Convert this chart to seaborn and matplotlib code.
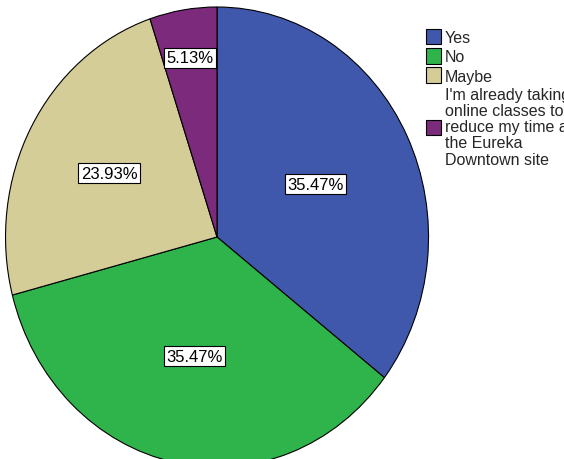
import numpy as np
import matplotlib
matplotlib.use("Agg")
import matplotlib.pyplot as plt
import seaborn as sns
from matplotlib.patches import Patch

sns.set_theme(style="white")
plt.rcParams["font.family"] = ["Liberation Sans", "DejaVu Sans"]

# Survey responses (percent of respondents)
categories = [
    "Yes",
    "No",
    "Maybe",
    "I'm already taking\nonline classes to\nreduce my time at\nthe Eureka\nDowntown site",
]
percents = [35.47, 35.47, 23.93, 5.13]
labels = ["35.47%", "35.47%", "23.93%", "5.13%"]

colors = ["#3F58AC", "#2EB44A", "#D5CD98", "#7B2A7C"]
label_radius = [0.52, 0.53, 0.58, 0.79]

fig = plt.figure(figsize=(5.64, 4.60), dpi=100)
ax = fig.add_axes([0.0098, -0.0174, 0.75, 1.0])

wedges, _ = ax.pie(
    percents,
    colors=colors,
    startangle=90,
    counterclock=False,
    wedgeprops=dict(edgecolor="black", linewidth=0.8),
)
ax.set_aspect("auto")
ax.set_xlim(-1, 1)
ax.set_ylim(-1, 1)

for w, txt, r in zip(wedges, labels, label_radius):
    mid = np.deg2rad((w.theta1 + w.theta2) / 2)
    ax.text(
        r * np.cos(mid), r * np.sin(mid), txt,
        ha="center", va="center", fontsize=12, color="black",
        bbox=dict(boxstyle="square,pad=0.15", facecolor="white",
                  edgecolor="black", linewidth=0.8),
    )

handles = [Patch(facecolor=c, edgecolor="black", linewidth=0.8) for c in colors]
leg = fig.legend(
    handles, categories,
    loc="upper left", bbox_to_anchor=(0.755, 0.935),
    frameon=False, fontsize=11.5,
    handlelength=0.95, handleheight=1.1, handletextpad=0.25,
    labelspacing=0.2, borderaxespad=0, borderpad=0,
)
for t in leg.get_texts():
    t.set_linespacing(1.1)

fig.savefig("out.png", dpi=100)
